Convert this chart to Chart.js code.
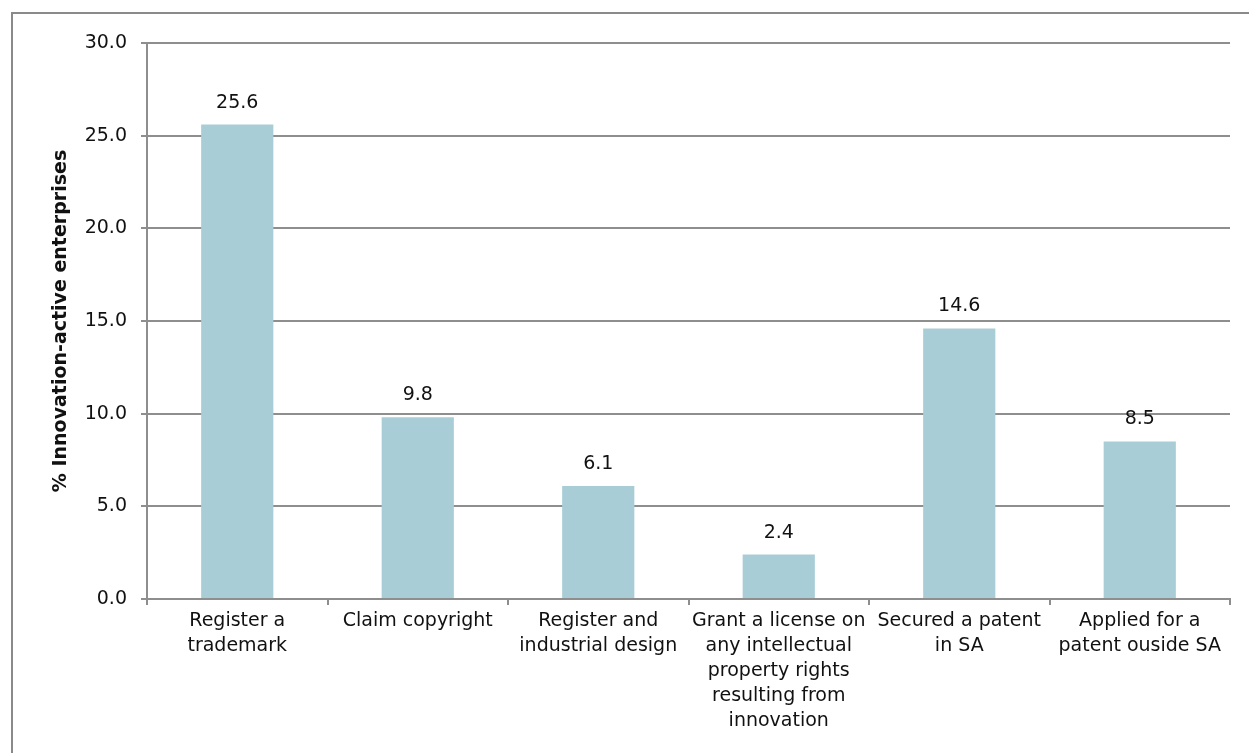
<!DOCTYPE html>
<html>
<head>
<meta charset="utf-8">
<script src="https://cdn.jsdelivr.net/npm/chart.js@4/dist/chart.umd.min.js"></script>
<style>
  html, body { margin: 0; padding: 0; background: #fff; overflow: hidden; }
  #frame {
    position: absolute; left: 11px; top: 12px;
    width: 1300px; height: 800px;
    border: 2px solid #8a8a8a;
  }
  #wrap { position: absolute; left: 0; top: 0; width: 1249px; height: 753px; }
</style>
</head>
<body>
<div id="frame"></div>
<div id="wrap"><canvas id="ipChart" width="1249" height="753"></canvas></div>
<script>
// IP activities of innovation-active enterprises (%)
const categories = [
  ['Register a', 'trademark'],
  ['Claim copyright'],
  ['Register and', 'industrial design'],
  ['Grant a license on', 'any intellectual', 'property rights', 'resulting from', 'innovation'],
  ['Secured a patent', 'in SA'],
  ['Applied for a', 'patent ouside SA'],
];
const shares = [25.6, 9.8, 6.1, 2.4, 14.6, 8.5];
const yTicks = [0, 5, 10, 15, 20, 25, 30];

const COLORS = {
  bar:  '#a9cdd6',
  grid: '#8e8e8e',
  text: '#111111',
};

const FONT = "'DejaVu Sans', sans-serif";
const SIZE = 19;

// value labels above each bar
const barValues = {
  id: 'barValues',
  afterDatasetsDraw(chart) {
    const { ctx } = chart;
    const meta = chart.getDatasetMeta(0);
    ctx.save();
    ctx.font = `${SIZE}px ${FONT}`;
    ctx.fillStyle = COLORS.text;
    ctx.textAlign = 'center';
    ctx.textBaseline = 'alphabetic';
    meta.data.forEach((bar, i) => {
      ctx.fillText(shares[i].toFixed(1), bar.x, bar.y - 17);
    });
    ctx.restore();
  }
};

new Chart(document.getElementById('ipChart'), {
  type: 'bar',
  data: {
    labels: categories,
    datasets: [{
      data: shares,
      backgroundColor: COLORS.bar,
      borderWidth: 0,
      barPercentage: 0.4,
      categoryPercentage: 1.0,
    }]
  },
  options: {
    responsive: false,
    animation: false,
    layout: { padding: { left: 0, right: 19, top: 43, bottom: 0 } },
    plugins: {
      legend: { display: false },
      tooltip: { enabled: false },
    },
    scales: {
      x: {
        grid: {
          offset: true,
          drawOnChartArea: false,
          drawTicks: true,
          tickLength: 6,
          color: COLORS.grid,
          lineWidth: 2,
        },
        border: { color: COLORS.grid, width: 2 },
        ticks: {
          color: COLORS.text,
          font: { family: FONT, size: SIZE, lineHeight: 1.316 },
          padding: 4,
          maxRotation: 0,
          autoSkip: false,
        },
        afterFit(scale) { scale.height = 154; },
      },
      y: {
        min: 0,
        max: 30,
        afterBuildTicks(scale) { scale.ticks = yTicks.map(v => ({ value: v })); },
        grid: {
          color: COLORS.grid,
          lineWidth: 2,
          tickLength: 6,
        },
        border: { color: COLORS.grid, width: 2 },
        ticks: {
          color: COLORS.text,
          font: { family: FONT, size: SIZE },
          padding: 14,
          callback: v => Number(v).toFixed(1),
        },
        title: {
          display: true,
          text: '% Innovation-active enterprises',
          color: COLORS.text,
          font: { family: FONT, size: SIZE, weight: 'bold' },
          padding: { top: 50, bottom: 0 },
        },
        afterFit(scale) { scale.width = 147; },
      }
    }
  },
  plugins: [barValues]
});
</script>
</body>
</html>
